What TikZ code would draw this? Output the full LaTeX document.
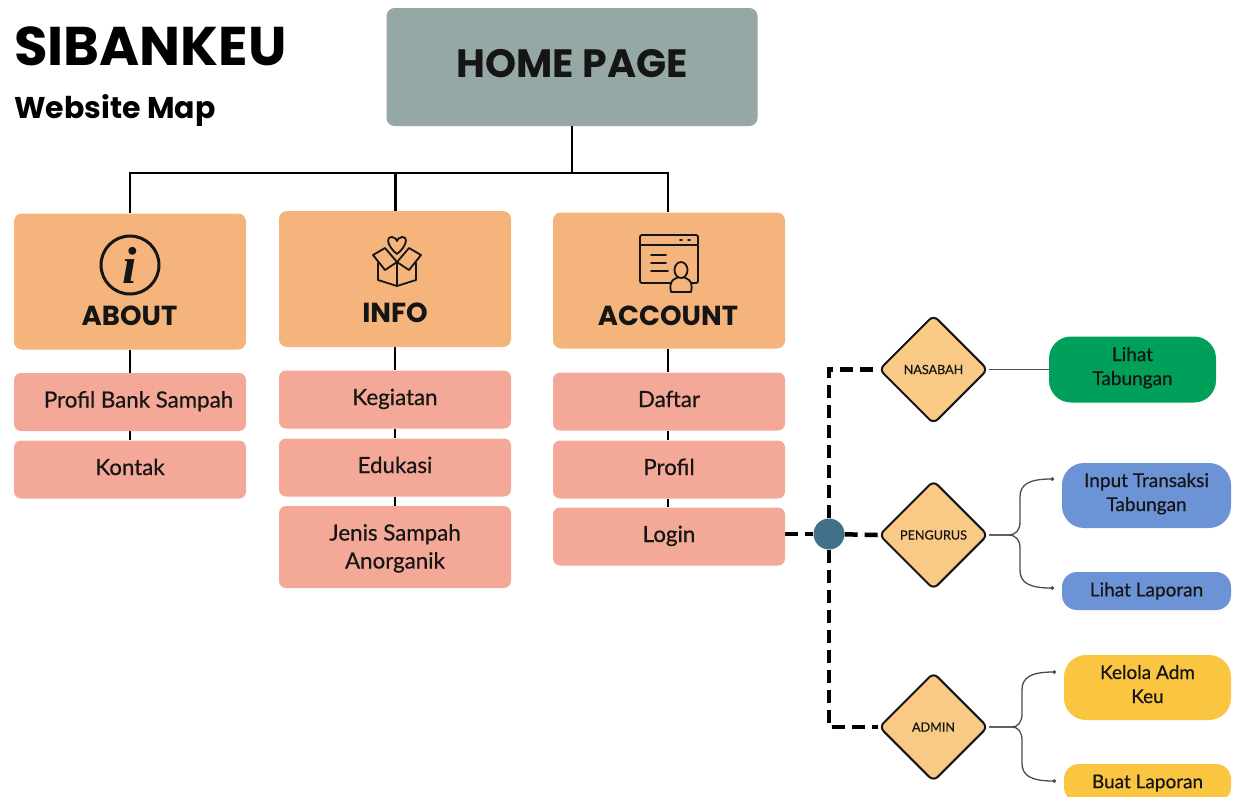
\documentclass[tikz,border=0pt]{standalone}
\usepackage{fontspec}
\setmainfont{Poppins}
\newfontfamily\bodyfont[FakeBold=0.5]{Lato}
\newfontfamily\iconfont{Liberation Serif}
\usetikzlibrary{backgrounds,shapes.geometric,arrows.meta}
\definecolor{homegray}{HTML}{96A8A5}
\definecolor{catorange}{HTML}{F4B47C}
\definecolor{subpink}{HTML}{F4A898}
\definecolor{diamondorange}{HTML}{F9CA85}
\definecolor{hubblue}{HTML}{40708A}
\definecolor{pillgreen}{HTML}{00A05A}
\definecolor{pillblue}{HTML}{6B93D6}
\definecolor{pillyellow}{HTML}{FAC540}
\definecolor{inkdark}{HTML}{151515}
\tikzset{
  catbox/.style = {fill=catorange, rounded corners=8pt, minimum width=232pt, minimum height=136pt, inner sep=0pt},
  cattitle/.style = {font=\fontsize{27.5}{29}\selectfont\bfseries, text=inkdark, inner sep=0pt},
  subbox/.style = {fill=subpink, rounded corners=7pt, minimum width=232pt, minimum height=58pt, inner sep=0pt,
    align=center, font=\bodyfont\fontsize{22.3}{28}\selectfont, text=inkdark},
  subline/.style = {subbox, text height=14pt, text depth=3pt},
  role/.style = {diamond, aspect=1, draw=inkdark, line width=2pt, fill=diamondorange, rounded corners=6pt,
    minimum size=109pt, inner sep=0pt, font=\bodyfont\fontsize{12.6}{14}\selectfont, text=inkdark},
  pill/.style = {rounded corners=22pt, minimum width=168pt, minimum height=65pt, inner sep=0pt, align=center,
    font=\bodyfont\fontsize{19}{24}\selectfont, text=inkdark},
  tree/.style = {line width=2pt, black},
  dashline/.style = {line width=4.5pt, black, dash pattern=on 13pt off 7pt},
  branch/.style = {line width=1.3pt, black!70, -{Circle[length=3.5pt]}},
  iconline/.style = {line width=1.8pt, inkdark, line join=round, line cap=round}
}
\begin{document}
\begin{tikzpicture}[x=1pt,y=-1pt]
  \useasboundingbox (0,0) rectangle (1233,796);
  \clip (0,0) rectangle (1233,796);
  % titles
  \node[anchor=west, inner sep=0pt, font=\fontsize{54.5}{56}\selectfont\bfseries] (sitetitle) at (14,46) {SIBANKEU};
  \node[anchor=west, inner sep=0pt, font=\fontsize{30}{32}\selectfont\bfseries] (sitesub) at (14,110) {Website Map};
  % home
  \node[fill=homegray, rounded corners=8pt, minimum width=371pt, minimum height=118pt, inner sep=0pt, text depth=8pt,
    font=\fontsize{39.5}{41}\selectfont\bfseries, text=inkdark] (home) at (572,67) {HOME PAGE};
  % categories
  \node[catbox] (about) at (130,281.5) {};
  \node[catbox] (info) at (395,279) {};
  \node[catbox] (account) at (669,280.5) {};
  \node[cattitle] (abouttitle) at (129.5,316) {ABOUT};
  \node[cattitle] (infotitle) at (395,313) {INFO};
  \node[cattitle] (accounttitle) at (668,316) {ACCOUNT};
  % pages
  \node[subline] (profilbank) at (130,402) {\hspace*{17pt}Profil Bank Sampah};
  \node[subline] (kontak) at (130,469.5) {Kontak};
  \node[subline] (kegiatan) at (395,399.5) {Kegiatan};
  \node[subline] (edukasi) at (395,467.5) {Edukasi};
  \node[subbox, minimum height=82pt, text height=48pt, text depth=5pt] (jenis) at (395,547) {Jenis Sampah\\Anorganik};
  \node[subline] (daftar) at (669,401.5) {Daftar};
  \node[subline] (profil) at (669,469.5) {Profil};
  \node[subline] (login) at (669,536.5) {Login};
  % roles
  \node[role] (nasabah) at (933.5,369.5) {NASABAH};
  \node[role] (pengurus) at (933.5,535) {PENGURUS};
  \node[role] (admin) at (933.5,727) {ADMIN};
  \node[circle, fill=hubblue, minimum size=31pt, inner sep=0pt] (hub) at (829,534) {};
  % pills
  \node[pill, fill=pillgreen, minimum width=167pt, minimum height=66pt, text depth=7pt] (tabungan) at (1132.5,369.5) {Lihat\\Tabungan};
  \node[pill, fill=pillblue, minimum width=169pt, text depth=7pt] (input) at (1146.5,495.5) {Input Transaksi\\Tabungan};
  \node[pill, fill=pillblue, minimum width=169pt, minimum height=38pt, rounded corners=15pt] (laporan) at (1146.5,591) {Lihat Laporan};
  \node[pill, fill=pillyellow, minimum width=167pt, text depth=7pt] (kelola) at (1147.5,687.5) {Kelola Adm\\Keu};
  \node[pill, fill=pillyellow, minimum width=167pt, minimum height=38pt, rounded corners=15pt] (buat) at (1147.5,783) {Buat Laporan};
  % branch ends
  \coordinate (inputend) at (1054,479);
  \coordinate (laporanend) at (1054,588);
  \coordinate (kelolaend) at (1056,672);
  \coordinate (buatend) at (1056,781);
  % about icon
  \draw[line width=3pt, inkdark] (130,265) circle (29);
  \node[inner sep=0pt, font=\iconfont\fontsize{52}{52}\selectfont\itshape\bfseries, text=inkdark] (abouti) at (130,265) {i};
  % info icon
  \draw[iconline] (397,254) .. controls (388,247) and (385,237) .. (392,237) .. controls (395,237) and (397,240) .. (397,241)
    .. controls (397,240) and (399,237) .. (402,237) .. controls (409,237) and (406,247) .. (397,254);
  \draw[iconline] (378,263) -- (378,280) -- (397,286) -- (416,280) -- (416,263);
  \draw[iconline] (397,262) -- (397,286);
  \draw[iconline] (397,262) -- (385,248) -- (373,255) -- (385,270) -- (397,262) -- (409,270) -- (421,255) -- (409,248) -- cycle;
  % account icon
  \draw[iconline, rounded corners=2pt] (640,235) rectangle (698,283);
  \draw[iconline] (640,245) -- (698,245);
  \draw[iconline] (680,240) -- (682,240) (688,240) -- (690,240);
  \draw[iconline] (651,255) -- (666,255) (651,263) -- (666,263) (651,271) -- (668,271);
  \filldraw[iconline, fill=catorange] (671,292) .. controls (668,280) and (676,277) .. (681,277)
    .. controls (686,277) and (694,280) .. (691,292) -- cycle;
  \filldraw[iconline, fill=catorange] (681,270) ellipse (6.5 and 8);
  \begin{scope}[on background layer]
    % tree
    \draw[tree] (home.south) -- ++(0,47) coordinate (treemid);
    \draw[tree] (about.north -| abouttitle) |- (treemid) -| (account.north -| accounttitle);
    \draw[tree, line width=3pt] (info.north) -- (info.north |- treemid);
    \draw[tree] (about.south -| abouttitle) -- (profilbank.north -| abouttitle);
    \draw[tree] (profilbank.south -| abouttitle) -- (kontak.north -| abouttitle);
    \draw[tree] (info.south) -- (kegiatan.north);
    \draw[tree] (kegiatan.south) -- (edukasi.north);
    \draw[tree] (edukasi.south) -- (jenis.north);
    \draw[tree] (account.south -| accounttitle) -- (daftar.north -| accounttitle);
    \draw[tree] (daftar.south -| accounttitle) -- (profil.north -| accounttitle);
    \draw[tree] (profil.south -| accounttitle) -- (login.north -| accounttitle);
    % dashed
    \draw[dashline] (login.east |- hub) -- (hub);
    \draw[dashline] (hub) -- (pengurus.west);
    \draw[dashline] (hub) |- (nasabah.west);
    \draw[dashline] (hub) |- (admin.west);
    % branches
    \draw[line width=1.3pt, black!70] (nasabah.east) -- (tabungan.west);
    \draw[branch] (pengurus.east) -- (1008,535) .. controls (1016,535) and (1020,530) .. (1020,522) -- (1020,497)
      .. controls (1020,485) and (1028,479) .. (inputend);
    \draw[branch] (pengurus.east) -- (1008,535) .. controls (1016,535) and (1020,540) .. (1020,548) -- (1020,570)
      .. controls (1020,582) and (1028,588) .. (laporanend);
    \draw[branch] (admin.east) -- (1012,727) .. controls (1018,727) and (1022,722) .. (1022,714) -- (1022,690)
      .. controls (1022,678) and (1030,672) .. (kelolaend);
    \draw[branch] (admin.east) -- (1012,727) .. controls (1018,727) and (1022,732) .. (1022,740) -- (1022,763)
      .. controls (1022,775) and (1030,781) .. (buatend);
  \end{scope}
\end{tikzpicture}
\end{document}
